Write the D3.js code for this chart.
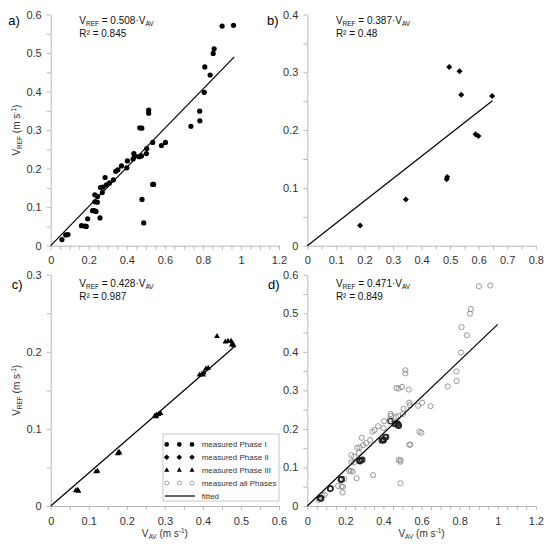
<!DOCTYPE html>
<html><head><meta charset="utf-8">
<script src="https://cdn.jsdelivr.net/npm/d3@7"></script>
<style>body{margin:0;background:#fff} svg{display:block;font-family:"Liberation Sans",Arial,sans-serif}</style>
</head><body><svg id="c" width="550" height="546"></svg>
<script>
// ---------- data ----------
const phase1X = [0.059,0.079,0.091,0.162,0.180,0.187,0.194,0.220,0.229,0.238,0.232,0.245,0.232,0.246,0.259,0.262,0.271,0.274,0.286,0.293,0.309,0.330,0.342,0.353,0.372,0.400,0.403,0.433,0.437,0.440,0.465,0.477,0.468,0.479,0.480,0.489,0.503,0.505,0.515,0.515,0.536,0.536,0.541,0.582,0.603,0.737,0.783,0.784,0.807,0.810,0.838,0.854,0.859,0.901,0.961];
const phase1Y = [0.016,0.028,0.029,0.052,0.051,0.050,0.070,0.091,0.091,0.089,0.114,0.113,0.132,0.128,0.072,0.151,0.138,0.152,0.177,0.158,0.163,0.171,0.193,0.197,0.207,0.202,0.220,0.225,0.239,0.234,0.231,0.233,0.306,0.305,0.120,0.059,0.239,0.252,0.352,0.344,0.268,0.159,0.159,0.260,0.268,0.310,0.349,0.324,0.398,0.464,0.443,0.499,0.511,0.570,0.572];
const phase2X = [0.185,0.345,0.488,0.490,0.497,0.533,0.539,0.589,0.599,0.647];
const phase2Y = [0.035,0.080,0.115,0.119,0.309,0.302,0.261,0.193,0.190,0.259];
const phase3X = [0.066,0.071,0.073,0.119,0.123,0.176,0.179,0.181,0.274,0.278,0.284,0.289,0.277,0.391,0.397,0.402,0.408,0.414,0.401,0.437,0.459,0.466,0.474,0.478,0.481,0.476];
const phase3Y = [0.0199,0.0207,0.0194,0.0445,0.0454,0.068,0.070,0.069,0.117,0.118,0.119,0.120,0.116,0.170,0.171,0.173,0.178,0.179,0.170,0.220,0.213,0.214,0.214,0.211,0.208,0.209];

const panelLabels = ["a)","b)","c)","d)"];
const slopes = [0.508,0.387,0.428,0.471];
const r2Values = [0.845,0.48,0.987,0.849];
const xMax = [1.2,0.8,0.6,1.2];
const yMax = [0.6,0.4,0.3,0.6];
const xMajor = [0.2,0.1,0.1,0.2];
const yMajor = [0.1,0.1,0.1,0.1];
const minorStep = 0.05;
const fitEnd = [0.965,0.648,0.482,1.0];
const legendLabels = ["measured Phase I","measured Phase II","measured Phase III","measured all Phases","fitted"];

// ---------- layout ----------
const boxes = [
  {l:50.7,r:279,t:14.5,b:245.7},
  {l:307.3,r:535.8,t:14.5,b:245.7},
  {l:50.7,r:279,t:274.7,b:506},
  {l:307.3,r:535.8,t:274.7,b:506}
];
const labelPos = [[8.3,25],[267,25],[11.7,289],[268,289]];
const eqBase = [[24,36.7],[24,36.7],[287,299.5],[287,299.5]];

const svg = d3.select("#c");
const axisColor = "#b8b8b8";
const textColor = "#333";

function tickList(max, step){ const n = Math.round(max/step); return d3.range(n+1).map(i => +(i*step).toFixed(4)); }
function isMajor(d, step){ const q = d/step; return Math.abs(q - Math.round(q)) < 1e-6; }
const fmt = d3.format("~g");

const diamond = (s) => `M0,${-s}L${s},0L0,${s}L${-s},0Z`;
const tri = d3.symbol().type(d3.symbolTriangle);

function zipPts(xs, ys){ return xs.map((x,i)=>({x, y: ys[i]})); }

boxes.forEach((bx, i) => {
  const x = d3.scaleLinear().domain([0, xMax[i]]).range([bx.l, bx.r]);
  const y = d3.scaleLinear().domain([0, yMax[i]]).range([bx.b, bx.t]);
  const g = svg.append("g");

  const xa = d3.axisBottom(x).tickValues(tickList(xMax[i], minorStep)).tickSize(4).tickPadding(7).tickSizeOuter(0)
    .tickFormat(d => isMajor(d, xMajor[i]) ? fmt(d) : "");
  const ya = d3.axisLeft(y).tickValues(tickList(yMax[i], minorStep)).tickSize(4).tickPadding(5).tickSizeOuter(0)
    .tickFormat(d => isMajor(d, yMajor[i]) ? fmt(d) : "");
  const gx = g.append("g").attr("transform", `translate(0,${bx.b})`).call(xa);
  const gy = g.append("g").attr("transform", `translate(${bx.l},0)`).call(ya);
  [gx, gy].forEach(a => {
    a.select(".domain").attr("stroke", axisColor);
    a.selectAll(".tick line").attr("stroke", axisColor);
    a.selectAll(".tick text").attr("fill", textColor).attr("font-size", 11).attr("font-family", "Liberation Sans, Arial, sans-serif");
  });

  // points
  if (i === 0) {
    g.append("g").selectAll("circle").data(zipPts(phase1X, phase1Y)).join("circle")
      .attr("cx", d => x(d.x)).attr("cy", d => y(d.y)).attr("r", 2.6).attr("fill", "#000");
  } else if (i === 1) {
    g.append("g").selectAll("path").data(zipPts(phase2X, phase2Y)).join("path")
      .attr("d", diamond(3)).attr("transform", d => `translate(${x(d.x)},${y(d.y)})`).attr("fill", "#000");
  } else if (i === 2) {
    g.append("g").selectAll("path").data(zipPts(phase3X, phase3Y)).join("path")
      .attr("d", tri.size(14)()).attr("transform", d => `translate(${x(d.x)},${y(d.y)})`).attr("fill", "#000");
  } else {
    const others = zipPts(phase1X, phase1Y).concat(zipPts(phase2X, phase2Y));
    g.append("g").selectAll("circle").data(others).join("circle")
      .attr("cx", d => x(d.x)).attr("cy", d => y(d.y)).attr("r", 2.6)
      .attr("fill", "none").attr("stroke", "#8c8c8c").attr("stroke-width", 0.9);
    g.append("g").selectAll("circle").data(zipPts(phase3X, phase3Y)).join("circle")
      .attr("cx", d => x(d.x)).attr("cy", d => y(d.y)).attr("r", 2.6)
      .attr("fill", "none").attr("stroke", "#222").attr("stroke-width", 1.1);
  }

  // fitted line
  g.append("line").attr("x1", x(0)).attr("y1", y(0)).attr("x2", x(fitEnd[i])).attr("y2", y(slopes[i]*fitEnd[i]))
    .attr("stroke", "#000").attr("stroke-width", 1.2);

  // panel label
  g.append("text").attr("x", labelPos[i][0]).attr("y", labelPos[i][1]).attr("font-size", 13).attr("fill", "#000").text(panelLabels[i]);

  // equation
  const ex = bx.l + 28.6;
  const t = g.append("text").attr("x", ex).attr("y", eqBase[i][0]).attr("font-size", 10).attr("fill", "#111");
  t.append("tspan").text("V");
  t.append("tspan").attr("font-size", 6.5).attr("dy", 2).text("REF");
  t.append("tspan").attr("dy", -2).text(" = " + slopes[i].toFixed(3) + "\u00B7V");
  t.append("tspan").attr("font-size", 6.5).attr("dy", 2).text("AV");
  g.append("text").attr("x", ex).attr("y", eqBase[i][1]).attr("font-size", 10).attr("fill", "#111")
    .text("R\u00B2 = " + r2Values[i]);

  // y axis title (left column)
  if (i === 0 || i === 2) {
    const cy = (bx.t + bx.b) / 2;
    const yt = g.append("text").attr("transform", `translate(20,${cy}) rotate(-90)`).attr("text-anchor", "middle")
      .attr("font-size", 10).attr("fill", textColor);
    yt.append("tspan").text("V");
    yt.append("tspan").attr("font-size", 6.5).attr("dy", 2).text("REF");
    yt.append("tspan").attr("dy", -2).text(" (m s");
    yt.append("tspan").attr("font-size", 6.5).attr("dy", -4).text("-1");
    yt.append("tspan").attr("dy", 4).text(")");
  }
  // x axis title (bottom row)
  if (i === 2 || i === 3) {
    const cx = (bx.l + bx.r) / 2;
    const xt = g.append("text").attr("x", cx).attr("y", 537).attr("text-anchor", "middle")
      .attr("font-size", 10).attr("fill", textColor);
    xt.append("tspan").text("V");
    xt.append("tspan").attr("font-size", 6.5).attr("dy", 2).text("AV");
    xt.append("tspan").attr("dy", -2).text(" (m s");
    xt.append("tspan").attr("font-size", 6.5).attr("dy", -4).text("-1");
    xt.append("tspan").attr("dy", 4).text(")");
  }
});

// ---------- legend ----------
const lg = svg.append("g");
lg.append("rect").attr("x", 163).attr("y", 434).attr("width", 116).attr("height", 67)
  .attr("fill", "#fff").attr("stroke", "#c8c8c8").attr("stroke-width", 1);
const rowY = legendLabels.map((_, k) => 444.4 + k * 12.9);
const symX = [166.7, 179.3, 192];
legendLabels.forEach((lab, k) => {
  const ry = rowY[k];
  if (k < 4) {
    symX.forEach(sx => {
      if (k === 0) lg.append("circle").attr("cx", sx).attr("cy", ry).attr("r", 2.3).attr("fill", "#000");
      else if (k === 1) lg.append("path").attr("d", diamond(2.8)).attr("transform", `translate(${sx},${ry})`).attr("fill", "#000");
      else if (k === 2) lg.append("path").attr("d", tri.size(11)()).attr("transform", `translate(${sx},${ry})`).attr("fill", "#000");
      else lg.append("circle").attr("cx", sx).attr("cy", ry).attr("r", 2).attr("fill", "none").attr("stroke", "#8c8c8c").attr("stroke-width", 0.8);
    });
  } else {
    lg.append("line").attr("x1", 165).attr("x2", 195).attr("y1", ry).attr("y2", ry).attr("stroke", "#000").attr("stroke-width", 1.2);
  }
  lg.append("text").attr("x", 201.7).attr("y", ry + 3).attr("font-size", 8).attr("fill", textColor).text(lab);
});
</script>
</body></html>
